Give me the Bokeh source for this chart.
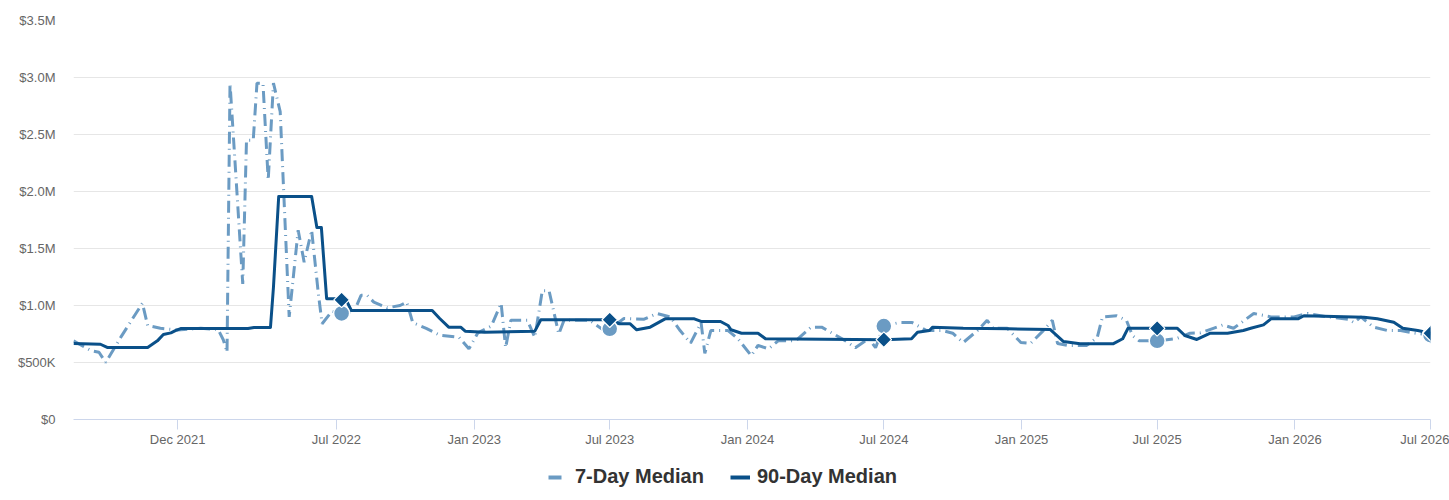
import pandas as pd
from bokeh.plotting import figure
from bokeh.layouts import column
from bokeh.models import (ColumnDataSource, FixedTicker, DatetimeTickFormatter,
                          Legend, LegendItem, Range1d)
from bokeh.embed import file_html
from bokeh.resources import INLINE

# ---------------- data ----------------
median7_dates = [
    "2021-07-15", "2021-08-07", "2021-08-18", "2021-08-27", "2021-09-16", "2021-10-15",
    "2021-10-22", "2021-11-08", "2021-12-01", "2022-01-01", "2022-01-24", "2022-01-31",
    "2022-02-05", "2022-02-09", "2022-02-26", "2022-03-03", "2022-03-12", "2022-03-17",
    "2022-03-25", "2022-04-01", "2022-04-08", "2022-04-17", "2022-04-29", "2022-05-11",
    "2022-05-19", "2022-05-29", "2022-06-07", "2022-06-12", "2022-06-25", "2022-07-08",
    "2022-07-25", "2022-08-03", "2022-08-11", "2022-08-20", "2022-09-07", "2022-09-24",
    "2022-10-03", "2022-10-11", "2022-10-29", "2022-11-16", "2022-12-12", "2022-12-25",
    "2023-01-06", "2023-01-24", "2023-02-06", "2023-02-12", "2023-02-19", "2023-03-13",
    "2023-03-23", "2023-04-02", "2023-04-11", "2023-04-24", "2023-05-01", "2023-06-04",
    "2023-06-26", "2023-07-01", "2023-07-20", "2023-08-16", "2023-09-02", "2023-09-20",
    "2023-10-03", "2023-10-17", "2023-10-31", "2023-11-05", "2023-11-13", "2023-12-06",
    "2023-12-19", "2024-01-06", "2024-01-15", "2024-01-29", "2024-02-11", "2024-03-05",
    "2024-03-26", "2024-04-09", "2024-05-11", "2024-05-24", "2024-06-11", "2024-06-20",
    "2024-07-01", "2024-07-21", "2024-08-08", "2024-08-27", "2024-09-18", "2024-10-01",
    "2024-10-15", "2024-11-03", "2024-11-16", "2024-11-24", "2024-12-13", "2024-12-31",
    "2025-01-13", "2025-01-30", "2025-02-11", "2025-02-18", "2025-03-03", "2025-03-29",
    "2025-04-12", "2025-04-19", "2025-05-08", "2025-05-21", "2025-05-29", "2025-06-07",
    "2025-07-01", "2025-07-27", "2025-08-14", "2025-08-28", "2025-09-14", "2025-09-27",
    "2025-10-11", "2025-11-07", "2025-11-30", "2025-12-31", "2026-01-18", "2026-02-14",
    "2026-03-13", "2026-03-21", "2026-03-30", "2026-04-16", "2026-05-05", "2026-05-22",
    "2026-06-08", "2026-07-01",
]
median7_values = [
    690000, 605000, 590000, 500000, 720000, 1020000,
    825000, 800000, 785000, 800000, 790000, 700000,
    590000, 2950000, 1190000, 2450000, 2450000, 2950000,
    2950000, 2100000, 2950000, 2700000, 900000, 1660000,
    1380000, 1660000, 1100000, 840000, 950000, 930000,
    950000, 1090000, 1090000, 1030000, 980000, 1000000,
    1030000, 850000, 800000, 740000, 720000, 620000,
    760000, 820000, 1020000, 630000, 870000, 870000,
    720000, 1130000, 1130000, 750000, 870000, 870000,
    770000, 795000, 886000, 880000, 930000, 900000,
    780000, 670000, 850000, 580000, 780000, 780000,
    710000, 560000, 650000, 620000, 690000, 690000,
    810000, 810000, 690000, 630000, 710000, 630000,
    820000, 850000, 850000, 780000, 780000, 757000,
    675000, 780000, 870000, 800000, 800000, 675000,
    667000, 780000, 870000, 667000, 650000, 650000,
    720000, 900000, 910000, 870000, 737000, 690000,
    690000, 710000, 757000, 760000, 800000, 830000,
    800000, 930000, 900000, 900000, 930000, 900000,
    880000, 850000, 900000, 810000, 780000, 780000,
    760000, 740000,
]

median90_dates = [
    "2021-07-15", "2021-08-20", "2021-08-29", "2021-10-22", "2021-11-04", "2021-11-12",
    "2021-11-22", "2021-11-28", "2021-12-05", "2022-03-05", "2022-03-13", "2022-04-04",
    "2022-04-08", "2022-04-15", "2022-05-29", "2022-06-05", "2022-06-11", "2022-06-18",
    "2022-06-29", "2022-07-08", "2022-07-14", "2022-07-21", "2022-11-06", "2022-11-16",
    "2022-11-28", "2022-12-14", "2022-12-20", "2023-01-15", "2023-03-23", "2023-03-31",
    "2023-07-01", "2023-07-14", "2023-07-28", "2023-08-06", "2023-08-24", "2023-09-13",
    "2023-10-22", "2023-10-31", "2023-11-26", "2023-12-06", "2023-12-10", "2023-12-24",
    "2024-01-15", "2024-01-25", "2024-07-01", "2024-08-07", "2024-08-15", "2024-08-31",
    "2024-09-04", "2024-10-15", "2024-12-15", "2025-02-08", "2025-02-26", "2025-03-20",
    "2025-05-03", "2025-05-16", "2025-05-23", "2025-07-28", "2025-08-07", "2025-08-23",
    "2025-09-10", "2025-10-03", "2025-10-24", "2025-11-03", "2025-11-20", "2025-11-30",
    "2026-01-05", "2026-01-13", "2026-04-03", "2026-04-21", "2026-05-13", "2026-05-25",
    "2026-06-14", "2026-07-01",
]
median90_values = [
    667000, 660000, 632000, 632000, 690000, 745000,
    760000, 780000, 798000, 798000, 807000, 807000,
    1160000, 1956000, 1956000, 1684000, 1684000, 1060000,
    1060000, 1050000, 1050000, 956000, 956000, 886000,
    810000, 810000, 775000, 766000, 775000, 875000,
    875000, 840000, 840000, 787000, 810000, 883000,
    883000, 860000, 860000, 825000, 787000, 757000,
    757000, 708000, 700000, 708000, 766000, 781000,
    810000, 800000, 795000, 790000, 684000, 664000,
    664000, 708000, 800000, 800000, 737000, 702000,
    757000, 757000, 781000, 800000, 830000, 883000,
    883000, 910000, 897000, 883000, 853000, 800000,
    781000, 757000,
]

marker_dates = ["2022-07-08", "2023-07-01", "2024-07-01", "2025-07-01", "2026-07-01"]
marker7_values = [930000, 795000, 820000, 690000, 740000]
marker90_values = [1050000, 875000, 700000, 800000, 757000]

y_ticks = [0, 500000, 1000000, 1500000, 2000000, 2500000, 3000000, 3500000]
y_tick_labels = ["$0", "$500K", "$1.0M", "$1.5M", "$2.0M", "$2.5M", "$3.0M", "$3.5M"]
x_tick_dates = ["2021-12-01", "2022-07-01", "2023-01-01", "2023-07-01", "2024-01-01",
                "2024-07-01", "2025-01-01", "2025-07-01", "2026-01-01", "2026-07-01"]

series_names = ["7-Day Median", "90-Day Median"]

# ---------------- styling ----------------
C7 = "#6b9bc3"
C90 = "#0a5089"
FONT = "Liberation Sans"

def ms(d):
    return pd.Timestamp(d).value / 1e6

src7 = ColumnDataSource(dict(x=pd.to_datetime(median7_dates), y=median7_values))
src90 = ColumnDataSource(dict(x=pd.to_datetime(median90_dates), y=median90_values))
srcm7 = ColumnDataSource(dict(x=pd.to_datetime(marker_dates), y=marker7_values))
srcm90 = ColumnDataSource(dict(x=pd.to_datetime(marker_dates), y=marker90_values))

x_start = ms(median7_dates[0])
x_end = ms(median7_dates[-1])

p = figure(width=1449, height=450, x_axis_type="datetime",
           output_backend="svg", toolbar_location=None,
           x_range=Range1d(x_start, x_end), y_range=Range1d(0, 3500000),
           min_border_left=73, min_border_right=19, min_border_top=20,
           min_border_bottom=31)
p.outline_line_color = None
p.background_fill_color = "white"
p.border_fill_color = "white"

p.xgrid.grid_line_color = None
p.ygrid.grid_line_color = "#e6e6e6"
p.ygrid.grid_line_width = 1

# y axis
p.yaxis.ticker = FixedTicker(ticks=y_ticks)
p.yaxis.major_label_overrides = {t: l for t, l in zip(y_ticks, y_tick_labels)}
p.yaxis.axis_line_color = None
p.yaxis.major_tick_line_color = None
p.yaxis.minor_tick_line_color = None
p.yaxis.major_tick_out = 0
p.yaxis.major_tick_in = 0
p.yaxis.major_label_standoff = 18
p.yaxis.major_label_text_font = FONT
p.yaxis.major_label_text_font_size = "13px"
p.yaxis.major_label_text_color = "#666666"

# x axis
p.xaxis.ticker = FixedTicker(ticks=[ms(d) for d in x_tick_dates])
fmt = "%b %Y"
p.xaxis.formatter = DatetimeTickFormatter(days=fmt, months=fmt, years=fmt)
p.xaxis.axis_line_color = "#ccd6eb"
p.xaxis.axis_line_width = 1
p.xaxis.major_tick_line_color = "#ccd6eb"
p.xaxis.major_tick_out = 10
p.xaxis.major_tick_in = 0
p.xaxis.minor_tick_line_color = None
p.xaxis.major_label_standoff = 2
p.xaxis.major_label_text_font = FONT
p.xaxis.major_label_text_font_size = "13px"
p.xaxis.major_label_text_color = "#666666"

# series
p.line("x", "y", source=src7, line_color=C7, line_width=3, line_dash="12 5 1 5")
p.line("x", "y", source=src90, line_color=C90, line_width=3, line_join="round")
p.scatter("x", "y", source=srcm7, marker="circle", size=16, fill_color=C7,
          line_color="white", line_width=1.5)
p.scatter("x", "y", source=srcm90, marker="square", angle=0.785398, size=11,
          fill_color=C90, line_color="white", line_width=1.2)

# ---------------- legend strip below the chart ----------------
lg = figure(width=1449, height=50, output_backend="svg", toolbar_location=None,
            x_range=Range1d(0, 1), y_range=Range1d(0, 1),
            min_border_left=73, min_border_right=19, min_border_top=0,
            min_border_bottom=0)
lg.axis.visible = False
lg.grid.visible = False
lg.outline_line_color = None
lg.border_fill_color = "white"
lg.background_fill_color = "white"

# off-screen helper glyphs that only provide the legend symbols
leg7 = lg.line([-10, -9], [-10, -9], line_color=C7, line_width=4, line_dash="13 20")
leg90 = lg.line([-10, -9], [-10, -9], line_color=C90, line_width=4)
legend = Legend(items=[LegendItem(label=series_names[0], renderers=[leg7]),
                       LegendItem(label=series_names[1], renderers=[leg90])],
                orientation="horizontal", location=(475, 12),
                glyph_width=20, glyph_height=20, label_standoff=7, spacing=26,
                padding=0, margin=0, border_line_color=None,
                background_fill_alpha=0,
                label_text_font=FONT, label_text_font_style="bold",
                label_text_font_size="20px", label_text_color="#333333")
lg.add_layout(legend, "center")

layout = column(p, lg, spacing=0)
open("out.html", "w").write(file_html(layout, INLINE))
